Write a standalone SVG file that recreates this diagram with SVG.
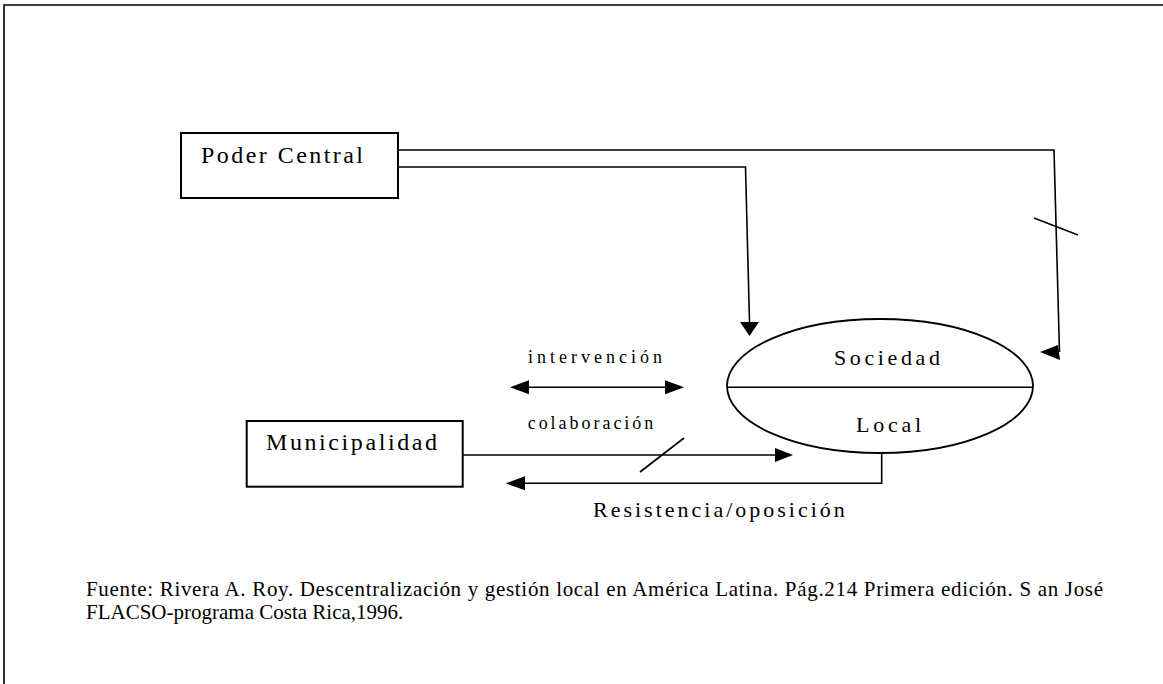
<svg xmlns="http://www.w3.org/2000/svg" width="1163" height="684" viewBox="0 0 1163 684">
<style>
.t{font-family:"Liberation Serif","Times New Roman",serif;fill:#000}
.box{fill:#fff;stroke:#000;stroke-width:2}
.ln{fill:none;stroke:#000;stroke-width:1.6}
.ah{fill:#000;stroke:none}
</style>
<rect x="0" y="0" width="1163" height="684" fill="#fff"/>
<g id="frame">
<path class="ln" d="M4,684 V5 H1163"/>
</g>
<g id="connectors">
<path class="ln" d="M398,150 H1054 L1059.5,352"/>
<polygon class="ah" points="1040,352 1058,345 1060,360"/>
<path class="ln" d="M1034,218 L1078,235"/>
<path class="ln" d="M398,167 H745.5 L749.5,322"/>
<polygon class="ah" points="740,322 759,322 749.5,336"/>
<path class="ln" d="M529,387.3 H665"/>
<polygon class="ah" points="510,387.3 529,380.3 529,394.3"/>
<polygon class="ah" points="684,387.3 665,380.3 665,394.3"/>
<path class="ln" d="M463,455 H775"/>
<polygon class="ah" points="793,455 775,448 775,462"/>
<path class="ln" d="M640,472 L684,438"/>
<path class="ln" d="M881.7,453 V483.3 H525"/>
<polygon class="ah" points="505.7,483.3 525,476.3 525,490.3"/>
</g>
<g id="poder-central">
<rect class="box" x="181" y="133" width="217" height="65"/>
<text class="t" x="201" y="163" font-size="24" textLength="162" lengthAdjust="spacing">Poder Central</text>
</g>
<g id="municipalidad">
<rect class="box" x="246.7" y="421" width="216" height="65.7"/>
<text class="t" x="266" y="450" font-size="24" textLength="171" lengthAdjust="spacing">Municipalidad</text>
</g>
<g id="sociedad-local">
<ellipse cx="880" cy="386" rx="153" ry="67" fill="none" stroke="#000" stroke-width="1.8"/>
<path class="ln" d="M727,387.3 H1033"/>
<text class="t" x="834" y="365" font-size="22" textLength="106" lengthAdjust="spacing">Sociedad</text>
<text class="t" x="856" y="432" font-size="22" textLength="65" lengthAdjust="spacing">Local</text>
</g>
<g id="labels">
<text class="t" x="528" y="362.7" font-size="18" textLength="134" lengthAdjust="spacing">intervención</text>
<text class="t" x="527.7" y="429" font-size="18" textLength="125.6" lengthAdjust="spacing">colaboración</text>
<text class="t" x="593" y="516.7" font-size="22" letter-spacing="3">Resistencia/oposición</text>
</g>
<g id="footer">
<text class="t" x="86" y="596" font-size="21" textLength="1017" lengthAdjust="spacing">Fuente: Rivera A. Roy. Descentralización y gestión local en América Latina. Pág.214 Primera edición. S an José</text>
<text class="t" x="86" y="619" font-size="21">FLACSO-programa Costa Rica,1996.</text>
</g>
</svg>
